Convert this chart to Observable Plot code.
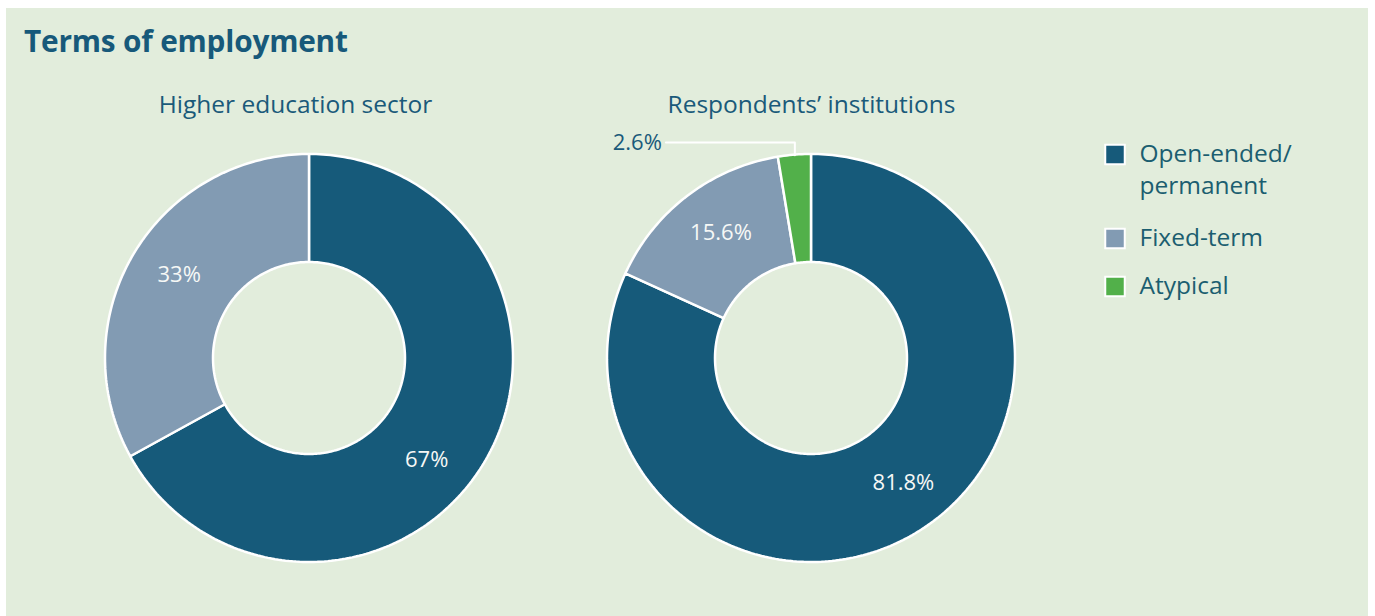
<!DOCTYPE html>
<html>
<head>
<meta charset="utf-8">
<script src="https://cdn.jsdelivr.net/npm/d3@7"></script>
<script src="https://cdn.jsdelivr.net/npm/@observablehq/plot@0.6"></script>
<style>
  html, body { margin: 0; padding: 0; background: #ffffff; }
  body { width: 1375px; height: 616px; position: relative; overflow: hidden; font-family: "Open Sans", "Noto Sans", sans-serif; }
  #panel { position: absolute; left: 6px; top: 8px; width: 1362px; height: 608px; background: #e2eddc; }
  #title { height: 70px; margin: 0; padding: 0; position: relative; }
  #title span { position: absolute; left: 18px; top: 17px; font-size: 29.8px; line-height: 31px; font-weight: 700; color: #17597a; letter-spacing: -0.2px; white-space: nowrap; }
  #chart svg { display: block; background: transparent; }
</style>
</head>
<body>
<div id="panel">
  <div id="title"><span>Terms of employment</span></div>
  <div id="chart"></div>
</div>
<script>
// ---- data ----
const categories = ["Open-ended/permanent", "Fixed-term", "Atypical"];
const legendLabels = ["Open-ended/\npermanent", "Fixed-term", "Atypical"];
const colors = ["#165a7a", "#829bb3", "#52b04a"];
const chartTitles = ["Higher education sector", "Respondents’ institutions"];
const sectorValues = [67, 33, 0];
const respondentValues = [81.8, 15.6, 2.6];

// ---- layout (code-level) ----
const W = 1362, H = 538;
const centers = [{cx: 303, cy: 280, tx: 289}, {cx: 805, cy: 280, tx: 805}];
const R = 204, r0 = 96, labelR = 155;
// small angular nudges (degrees) for inside-label placement, as in the original
const labelNudge = {"0-0": 10.3, "0-1": 2.2, "1-0": -3.6, "1-1": 1.7};
const fmt = v => Number.isInteger(v) ? `${v}%` : `${v.toFixed(1)}%`;

const series = [sectorValues, respondentValues];
const arcPts = [];
const inLabels = [];
const outLabels = [];
const leaders = [];
const titles = [];

series.forEach((vals, ci) => {
  const {cx, cy, tx} = centers[ci];
  titles.push({x: tx, y: 27, text: chartTitles[ci]});
  const total = d3.sum(vals);
  let acc = 0;
  vals.forEach((v, i) => {
    if (v <= 0) return;
    const a0 = acc / total * 2 * Math.PI;
    acc += v;
    const a1 = acc / total * 2 * Math.PI;
    const n = Math.max(2, Math.ceil((a1 - a0) / (Math.PI / 180)) + 1);
    const key = `${ci}-${i}`;
    for (let k = 0; k <= n; k++) {
      const a = a0 + (a1 - a0) * k / n;
      arcPts.push({
        key, cat: categories[i],
        x1: cx + R * Math.sin(a), y1: cy - R * Math.cos(a),
        x2: cx + r0 * Math.sin(a), y2: cy - r0 * Math.cos(a)
      });
    }
    const am = (a0 + a1) / 2;
    if (v / total >= 0.05) {
      const al = am + (labelNudge[key] || 0) * Math.PI / 180;
      inLabels.push({x: cx + labelR * Math.sin(al), y: cy - labelR * Math.cos(al), text: fmt(v)});
    } else {
      const mx = cx + R * Math.sin(am), my = cy - R * Math.cos(am);
      const ly = cy - R - 12;
      const lx = mx - 129;
      leaders.push({key, x: mx, y: my}, {key, x: mx, y: ly}, {key, x: lx, y: ly});
      outLabels.push({x: lx - 4, y: ly, text: fmt(v)});
    }
  });
});

// legend rows
const legend = [];
const legendLines = [];
let ly = 76;
categories.forEach((c, i) => {
  const lines = legendLabels[i].split("\n");
  legend.push({cat: c, y: ly});
  lines.forEach((t, j) => legendLines.push({text: t, y: ly + j * 32}));
  ly += 48 + (lines.length - 1) * 36;
});

const plot = Plot.plot({
  width: W, height: H,
  margin: 0,
  x: {domain: [0, W], range: [0, W], axis: null},
  y: {domain: [0, H], range: [0, H], axis: null},
  color: {domain: categories, range: colors, legend: false},
  style: {background: "transparent", fontFamily: "'Open Sans', 'Noto Sans', sans-serif"},
  marks: [
    Plot.area(arcPts, {x1: "x1", y1: "y1", x2: "x2", y2: "y2", z: "key", fill: "cat", stroke: "white", strokeWidth: 2.5, strokeLinejoin: "miter"}),
    Plot.line(leaders, {x: "x", y: "y", z: "key", stroke: "white", strokeWidth: 2}),
    Plot.text(inLabels, {x: "x", y: "y", text: "text", fill: "#f6f8f6", fontSize: 22}),
    Plot.text(outLabels, {x: "x", y: "y", text: "text", fill: "#1a5a7a", fontSize: 22, textAnchor: "end"}),
    Plot.text(titles, {x: "x", y: "y", text: "text", fill: "#1a5a7a", fontSize: 24.5}),
    Plot.dot(legend, {x: () => 1108.5, y: "y", symbol: "square", r: 11, fill: "cat", stroke: "white", strokeWidth: 2}),
    Plot.text(legendLines, {x: () => 1133, y: "y", text: "text", fill: "#1b5e70", fontSize: 24.5, textAnchor: "start"})
  ]
});
document.getElementById("chart").appendChild(plot);
</script>
</body>
</html>
